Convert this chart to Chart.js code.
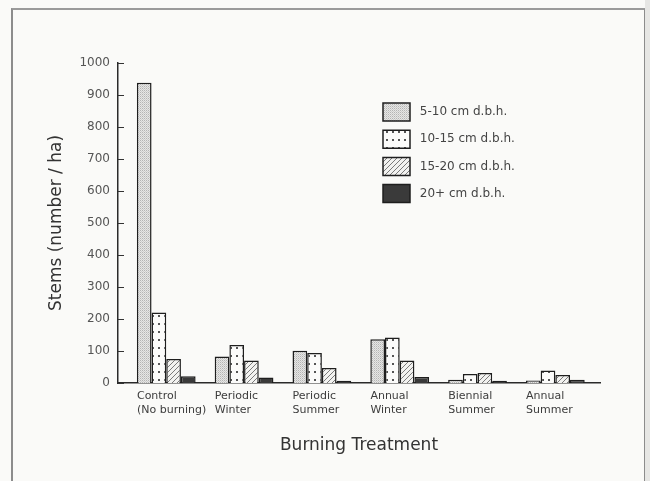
<!DOCTYPE html>
<html>
<head>
<meta charset="utf-8">
<script src="https://cdn.jsdelivr.net/npm/chart.js@4.4.1/dist/chart.umd.min.js"></script>
<style>
  html, body { margin: 0; padding: 0; background: #fafaf8; width: 650px; height: 481px; overflow: hidden; }
  #frame { position: absolute; left: 11px; top: 8px; width: 631px; height: 480px;
           border-left: 2px solid #8c8c8c; border-top: 2px solid #9a9a9a; border-right: 2px solid #8c8c8c; }
  #shade { position: absolute; left: 645px; top: 0; width: 5px; height: 481px; background: #e6e6e4; }
  canvas { position: absolute; left: 0; top: 0; }
</style>
</head>
<body>
<div id="frame"></div>
<div id="shade"></div>
<canvas id="c" width="650" height="481"></canvas>
<script>
// ---- data ----
const categories = [
  ["Control", "(No burning)"],
  ["Periodic", "Winter"],
  ["Periodic", "Summer"],
  ["Annual", "Winter"],
  ["Biennial", "Summer"],
  ["Annual", "Summer"]
];
const seriesNames = ["5-10 cm d.b.h.", "10-15 cm d.b.h.", "15-20 cm d.b.h.", "20+ cm d.b.h."];
const dbh5to10  = [938, 83, 101, 137, 10, 8];
const dbh10to15 = [220, 119, 94, 142, 28, 39];
const dbh15to20 = [75, 70, 47, 70, 31, 25];
const dbh20plus = [21, 17, 7, 19, 7, 10];
const yTicks = [0, 100, 200, 300, 400, 500, 600, 700, 800, 900, 1000];

// ---- patterns ----
function makePattern(w, h, draw) {
  const c = document.createElement('canvas');
  c.width = w; c.height = h;
  const g = c.getContext('2d');
  draw(g, w, h);
  return g.createPattern(c, 'repeat');
}
const stipple = makePattern(2, 2, (g) => {
  g.fillStyle = '#e6e6e4'; g.fillRect(0, 0, 2, 2);
  g.fillStyle = '#b4b4b4'; g.fillRect(0, 0, 1, 1);
  g.fillStyle = '#cdcdcd'; g.fillRect(1, 1, 1, 1);
});
const dots = makePattern(6, 8, (g) => {
  g.fillStyle = '#fbfbfa'; g.fillRect(0, 0, 6, 8);
  g.fillStyle = '#555'; g.fillRect(2, 3, 2, 2);
});
const hatch = makePattern(5, 5, (g) => {
  g.fillStyle = '#f2f2f0'; g.fillRect(0, 0, 5, 5);
  g.strokeStyle = '#7a7a7a'; g.lineWidth = 1;
  g.beginPath();
  g.moveTo(-1, 6); g.lineTo(6, -1);
  g.moveTo(-1, 1); g.lineTo(1, -1);
  g.moveTo(4, 6); g.lineTo(6, 4);
  g.stroke();
});
const solidDark = '#3a3a3a';

const fills = [stipple, dots, hatch, solidDark];
const seriesValues = [dbh5to10, dbh10to15, dbh15to20, dbh20plus];

const datasets = seriesNames.map((name, s) => ({
  label: name,
  data: seriesValues[s].map((v, i) => ({ x: i, y: v })),
  backgroundColor: fills[s],
  borderColor: '#1e1e1e',
  borderWidth: 1.5,
  categoryPercentage: 0.755,
  barPercentage: 1.0
}));

const FONT = "'DejaVu Sans', sans-serif";
const TXT = '#3c3c3c';

const legendPlace = {
  id: 'legendPlace',
  afterLayout(chart) {
    const l = chart.legend;
    if (!l) return;
    const p = l.options.labels.padding;
    l.left = 383 - p; l.top = 103 - p;
    l.right = l.left + l.width; l.bottom = l.top + l.height;
  }
};

// inward tick marks on the y axis, placed by the y scale
const inwardTicks = {
  id: 'inwardTicks',
  afterDraw(chart) {
    const y = chart.scales.y;
    const ctx = chart.ctx;
    const x0 = chart.chartArea.left;
    ctx.save();
    ctx.strokeStyle = '#333';
    ctx.lineWidth = 1;
    ctx.beginPath();
    y.ticks.forEach(t => {
      const py = Math.round(y.getPixelForValue(t.value)) + 0.5;
      const len = yTicks.includes(t.value) ? 6 : 4;
      ctx.moveTo(x0, py); ctx.lineTo(x0 + len, py);
    });
    ctx.stroke();
    ctx.restore();
  }
};

new Chart(document.getElementById('c'), {
  type: 'bar',
  data: { datasets },
  plugins: [legendPlace, inwardTicks],
  options: {
    responsive: false,
    animation: false,
    devicePixelRatio: 1,
    layout: { padding: { left: 0, top: 63, right: 50, bottom: 0 } },
    plugins: {
      tooltip: { enabled: false },
      legend: {
        position: 'chartArea',
        align: 'start',
        labels: {
          boxWidth: 27, boxHeight: 18, padding: 9.2,
          color: '#444',
          font: { family: FONT, size: 12 },
          generateLabels(chart) {
            const items = Chart.defaults.plugins.legend.labels.generateLabels(chart);
            items.forEach(it => { it.text = ' ' + it.text; });
            return items;
          }
        }
      }
    },
    scales: {
      x: {
        type: 'linear',
        offset: false,
        min: -0.62, max: 5.574,
        afterBuildTicks: (s) => { s.ticks = categories.map((c, i) => ({ value: i })); },
        afterFit: (s) => { s.height = 98; },
        grid: { display: false, drawTicks: false },
        border: { display: true, color: '#2a2a2a', width: 1.5 },
        ticks: {
          autoSkip: false, maxRotation: 0,
          align: 'start', labelOffset: -29.3, padding: 7,
          color: TXT,
          font: { family: FONT, size: 11, lineHeight: 1.2 },
          callback: (v) => categories[Math.round(v)] || ''
        },
        title: {
          display: true, text: 'Burning Treatment', color: '#333',
          font: { family: FONT, size: 17, lineHeight: 1.2 },
          padding: { top: 0, bottom: 25 }
        }
      },
      y: {
        min: 0, max: 1000,
        afterFit: (s) => { s.width = 118; },
        grid: { display: false, drawOnChartArea: false, drawTicks: false },
        border: { display: true, color: '#2a2a2a', width: 1.5 },
        ticks: {
          stepSize: 50, padding: 8, color: '#555',
          font: { family: FONT, size: 12 },
          callback: (v) => (yTicks.includes(v) ? String(v) : '')
        },
        title: {
          display: true, text: 'Stems (number / ha)', color: '#333',
          font: { family: FONT, size: 17, lineHeight: 1.2 },
          padding: { top: 46, bottom: 0 }
        }
      }
    }
  }
});
</script>
</body>
</html>
